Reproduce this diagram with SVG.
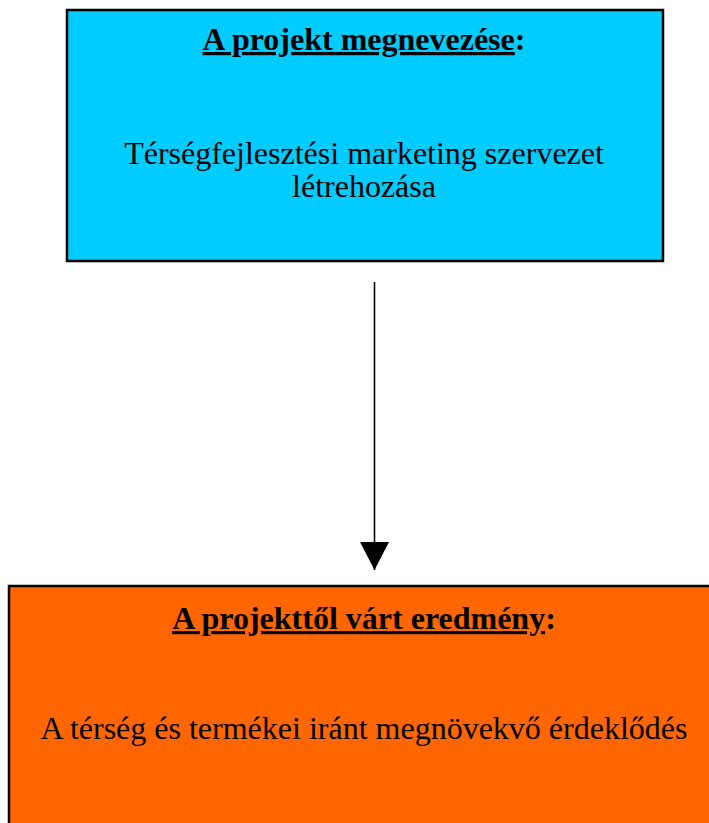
<svg xmlns="http://www.w3.org/2000/svg" width="709" height="823" viewBox="0 0 709 823">
<style>
.box{stroke:#000;stroke-width:2.5}
.t{font-family:"Liberation Serif","Times New Roman",serif;font-size:32px;fill:#000;text-anchor:middle}
.b{font-weight:bold}
.u{text-decoration:underline}
</style>
<defs>
<marker id="ah" markerUnits="userSpaceOnUse" markerWidth="30" markerHeight="30" refX="28" refY="14.5" orient="auto" viewBox="0 0 30 30">
<polygon points="0,0 28,14.5 0,29" fill="#000"/>
</marker>
</defs>
<rect width="709" height="823" fill="#fff"/>
<g id="node-name">
<rect class="box" x="67" y="10" width="596" height="251" fill="#00CCFF"/>
<text class="t b" x="364" y="50"><tspan class="u">A projekt megnevezése</tspan>:</text>
<text class="t" x="364" y="164">Térségfejlesztési marketing szervezet</text>
<text class="t" x="364" y="197">létrehozása</text>
</g>
<g id="node-result">
<rect class="box" x="9" y="586" width="712" height="300" fill="#FF6600"/>
<text class="t b" x="364" y="629"><tspan class="u">A projekttől várt eredmény</tspan>:</text>
<text class="t" x="364" y="739">A térség és termékei iránt megnövekvő érdeklődés</text>
</g>
<g id="connectors">
<line x1="374.5" y1="282" x2="374.5" y2="570" stroke="#000" stroke-width="1.6" marker-end="url(#ah)"/>
</g>
</svg>
